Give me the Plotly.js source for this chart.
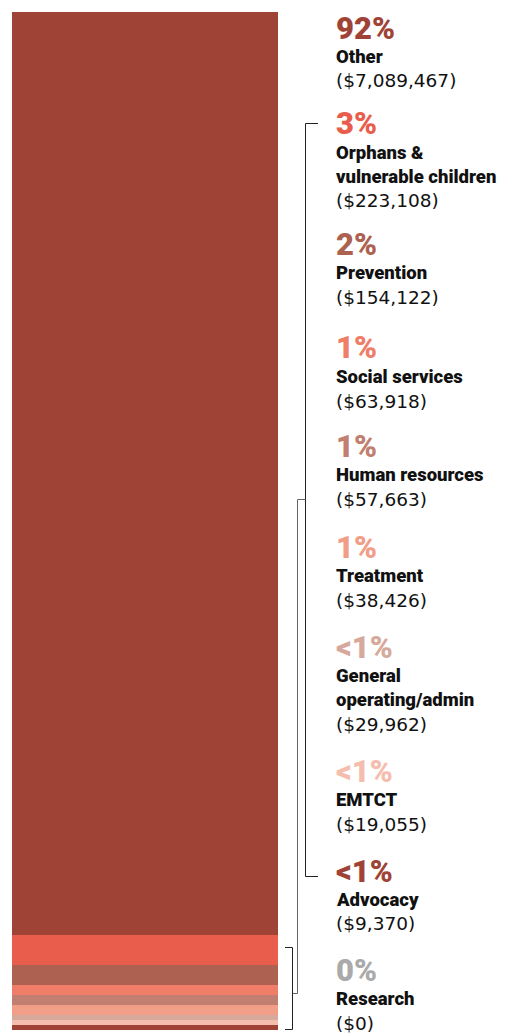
<!DOCTYPE html>
<html>
<head>
<meta charset="utf-8">
<script src="https://cdn.plot.ly/plotly-3.0.1.min.js"></script>
<style>
html,body{margin:0;padding:0;background:#fff;}
#chart{width:507px;height:1036px;}
</style>
</head>
<body>
<div id="chart"></div>
<script>
// ---- data ----
var categories = ['Other', 'Orphans &\nvulnerable children', 'Prevention', 'Social services',
  'Human resources', 'Treatment', 'General\noperating/admin', 'EMTCT', 'Advocacy', 'Research'];
var pctLabels = ['92%', '3%', '2%', '1%', '1%', '1%', '<1%', '<1%', '<1%', '0%'];
var shares = [92, 3, 2, 1, 1, 1, 0.5, 0.5, 0.5, 0];
var amounts = [7089467, 223108, 154122, 63918, 57663, 38426, 29962, 19055, 9370, 0];
var colors = ['#a04337', '#e85d4b', '#ad6251', '#ef7d68', '#c07f70', '#f29d88', '#d6a99c', '#f5bdad', '#a04337', '#aaaaaa'];

// ---- layout helpers ----
var W = 507, H = 1036;
var mL = 12, mR = 229, mT = 12, mB = 6;
var plotW = W - mL - mR, plotH = H - mT - mB;
function px(x) { return (x - mL) / plotW; }
function py(y) { return (H - mB - y) / plotH; }

// stacked bar: bottom = last category
var traces = [];
for (var i = categories.length - 1; i >= 0; i--) {
  traces.push({
    type: 'bar', x: [0], y: [shares[i]], name: categories[i],
    marker: {color: colors[i], line: {width: 0}},
    hoverinfo: 'skip', showlegend: false
  });
}

// text positions (pixel centers of each group's first line)
var groupTop = [28, 124, 244, 348, 446, 547, 647, 771, 871, 970];
var annotations = [];
var tx = 336;
for (var k = 0; k < categories.length; k++) {
  var y0 = groupTop[k];
  annotations.push({
    xref: 'paper', yref: 'paper', x: px(tx - 2), y: py(y0), xanchor: 'left', yanchor: 'middle',
    text: pctLabels[k].replace('<', '&lt;'), showarrow: false,
    font: {family: 'Roboto, sans-serif', size: 31, weight: 900, color: colors[k]}
  });
  var lines = categories[k].split('\n');
  var ly = y0 + 29;
  for (var j = 0; j < lines.length; j++) {
    annotations.push({
      xref: 'paper', yref: 'paper', x: px(tx - 2), y: py(ly), xanchor: 'left', yanchor: 'middle',
      text: lines[j].replace('&', '&amp;'), showarrow: false,
      font: {family: 'Roboto, sans-serif', size: 18.5, weight: 900, color: '#111111'}
    });
    ly += 24;
  }
  annotations.push({
    xref: 'paper', yref: 'paper', x: px(tx - 2), y: py(ly), xanchor: 'left', yanchor: 'middle',
    text: '($' + amounts[k].toLocaleString('en-US') + ')', showarrow: false,
    font: {family: 'DejaVu Sans, sans-serif', size: 18.5, color: '#111111'}
  });
}

function path(pts) {
  return 'M' + pts.map(function (p) { return px(p[0]) + ',' + py(p[1]); }).join(' L');
}
var lineStyle = {color: '#222222', width: 1};
var shapes = [
  {type: 'path', xref: 'paper', yref: 'paper', path: path([[318, 123.5], [305.5, 123.5], [305.5, 876.5], [318, 876.5]]), line: lineStyle},
  {type: 'path', xref: 'paper', yref: 'paper', path: path([[305.5, 499.5], [297.5, 499.5], [297.5, 993.5], [292.5, 993.5]]), line: {color: '#666666', width: 1}},
  {type: 'path', xref: 'paper', yref: 'paper', path: path([[285, 947.5], [292.5, 947.5], [292.5, 1029.5], [285, 1029.5]]), line: lineStyle}
];

var total = shares.reduce(function (a, b) { return a + b; }, 0);

var layout = {
  width: W, height: H,
  margin: {l: mL, r: mR, t: mT, b: mB, pad: 0},
  barmode: 'stack', bargap: 0,
  paper_bgcolor: '#ffffff', plot_bgcolor: '#ffffff',
  xaxis: {range: [-0.5, 0.5], visible: false, fixedrange: true},
  yaxis: {range: [0, total], visible: false, fixedrange: true},
  annotations: annotations,
  shapes: shapes,
  showlegend: false
};

Plotly.newPlot('chart', traces, layout, {displayModeBar: false, staticPlot: true});
</script>
</body>
</html>
